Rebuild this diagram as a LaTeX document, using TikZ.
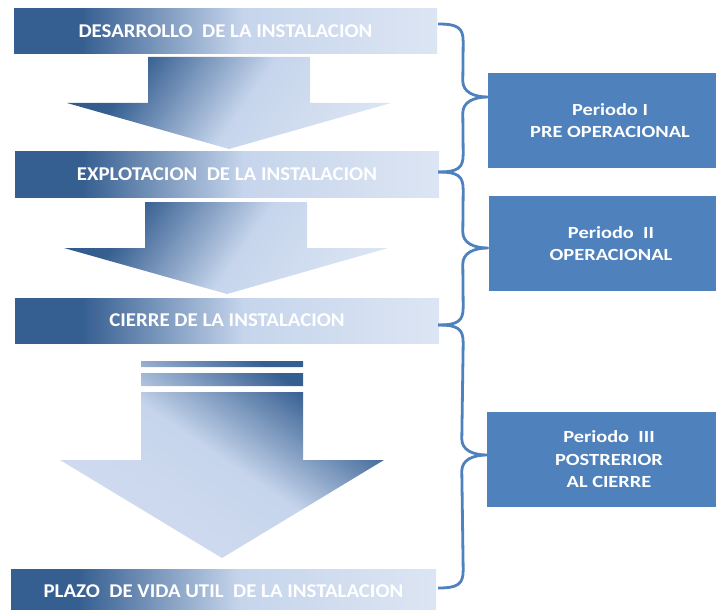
\documentclass[tikz,border=0pt]{standalone}
\usepackage{fontspec}
\setmainfont{Carlito}
\newfontfamily\stretchfont[FakeStretch=1.2]{Carlito}
\newfontfamily\barfont[FakeStretch=1.07]{Carlito}
\usetikzlibrary{calc}
\definecolor{dk0}{HTML}{2F5A8C}
\definecolor{dk}{HTML}{365F91}
\definecolor{lt}{HTML}{C6D5EC}
\definecolor{lt2}{HTML}{DCE5F3}
\definecolor{lt3}{HTML}{CFDAEF}
\definecolor{boxblue}{HTML}{4F81BD}
\pgfdeclarehorizontalshading{barsh}{100bp}{color(0bp)=(dk); color(33bp)=(dk); color(52bp)=(lt); color(75bp)=(lt2); color(100bp)=(lt2)}
\pgfdeclarehorizontalshading{arsh}{100bp}{color(0bp)=(dk0); color(30bp)=(dk0); color(36bp)=(dk); color(52bp)=(lt); color(70bp)=(lt2); color(100bp)=(lt2)}
\pgfdeclarehorizontalshading{arshb}{100bp}{color(0bp)=(lt2); color(38bp)=(lt3); color(52bp)=(lt); color(67bp)=(dk); color(100bp)=(dk)}
\tikzset{
  barbox/.style={shade, shading=barsh, draw=none, inner sep=0pt, minimum height=45pt,
    text=white, font=\barfont\fontsize{19.5}{23}\selectfont\bfseries},
  perbox/.style={fill=boxblue, draw=none, inner sep=0pt, minimum width=244pt, minimum height=95pt,
    text=white, align=center, font=\stretchfont\fontsize{17}{22.5}\selectfont\bfseries},
  bracel/.style={draw=boxblue, line width=2.8pt, line join=round}
}
\begin{document}
\begin{tikzpicture}[x=1pt,y=-1pt]
\useasboundingbox (0,0) rectangle (716,610);
\begin{scope}
\clip (0,0) rectangle (716,610);
% arrow 1
\begin{scope}
\clip (148,57) -- (310,57) -- (310,103) -- (391,103) -- (229,149) -- (67,103) -- (148,103) -- cycle;
\shade[shading=arsh, shading angle=-34.2] (59,-67) rectangle (399,273);
\end{scope}
% arrow 2
\begin{scope}
\clip (145,202) -- (307,202) -- (307,248) -- (388,248) -- (227,294) -- (64,248) -- (145,248) -- cycle;
\shade[shading=arsh, shading angle=-34.2] (56,78) rectangle (396,418);
\end{scope}
% arrow 3 with stripes
\begin{scope}
\clip (141,392) -- (303,392) -- (303,460) -- (384,460) -- (222,558) -- (60,460) -- (141,460) -- cycle
      (141,361) rectangle (303,367)
      (141,373) rectangle (303,386);
\shade[shading=arshb, shading angle=55.7] (52,305) rectangle (392,645);
\end{scope}
% bars
\node[barbox, minimum width=423pt] (bar1) at (225.5,31.5) {DESARROLLO\ \ DE LA INSTALACION};
\node[barbox, minimum width=424pt] (bar2) at (227,174.5) {EXPLOTACION\ \ DE LA INSTALACION};
\node[barbox, minimum width=424pt] (bar3) at (227,320.5) {CIERRE DE LA INSTALACION};
\node[barbox, minimum width=425pt] (bar4) at (223.5,591.5) {PLAZO\ \ DE VIDA UTIL\ \ DE LA INSTALACION};
% period boxes
\node[perbox] (p1) at (610,120.5) {Periodo I\\PRE OPERACIONAL};
\node[perbox] (p2) at (611,243.5) {Periodo\ \ II\\OPERACIONAL};
\node[perbox] (p3) at (609,459.5) {Periodo\ \ III\\POSTRERIOR\\AL CIERRE};
% brace anchor points
\coordinate (b1t) at ($(bar1.east)+(1,-7.5)$);
\coordinate (b1b) at ($(bar2.east)+(-1,-2.5)$);
\coordinate (b2b) at ($(bar3.east)+(-1,4.5)$);
\coordinate (b3b) at ($(bar4.east)+(2,-3.5)$);
\coordinate (m1) at ($(p1.west)+(0,-23.5)$);
\coordinate (m2) at ($(p2.west)+(-1,4.5)$);
\coordinate (m3) at ($(p3.west)+(0,-4.5)$);
% braces
\foreach \t/\m/\b in {b1t/m1/b1b, b1b/m2/b2b, b2b/m3/b3b}{
\draw[bracel] (\t) .. controls +(20,0) and +(0,-14) .. ($(\t)+(25,18)$)
  -- ($(\m)+(-25,-16)$) .. controls +(0,11) and +(-14,0) .. (\m)
  .. controls +(-14,0) and +(0,-11) .. ($(\m)+(-25,16)$)
  -- ($(\b)+(25,-18)$) .. controls +(0,14) and +(20,0) .. (\b);
}
\end{scope}
\end{tikzpicture}
\end{document}
